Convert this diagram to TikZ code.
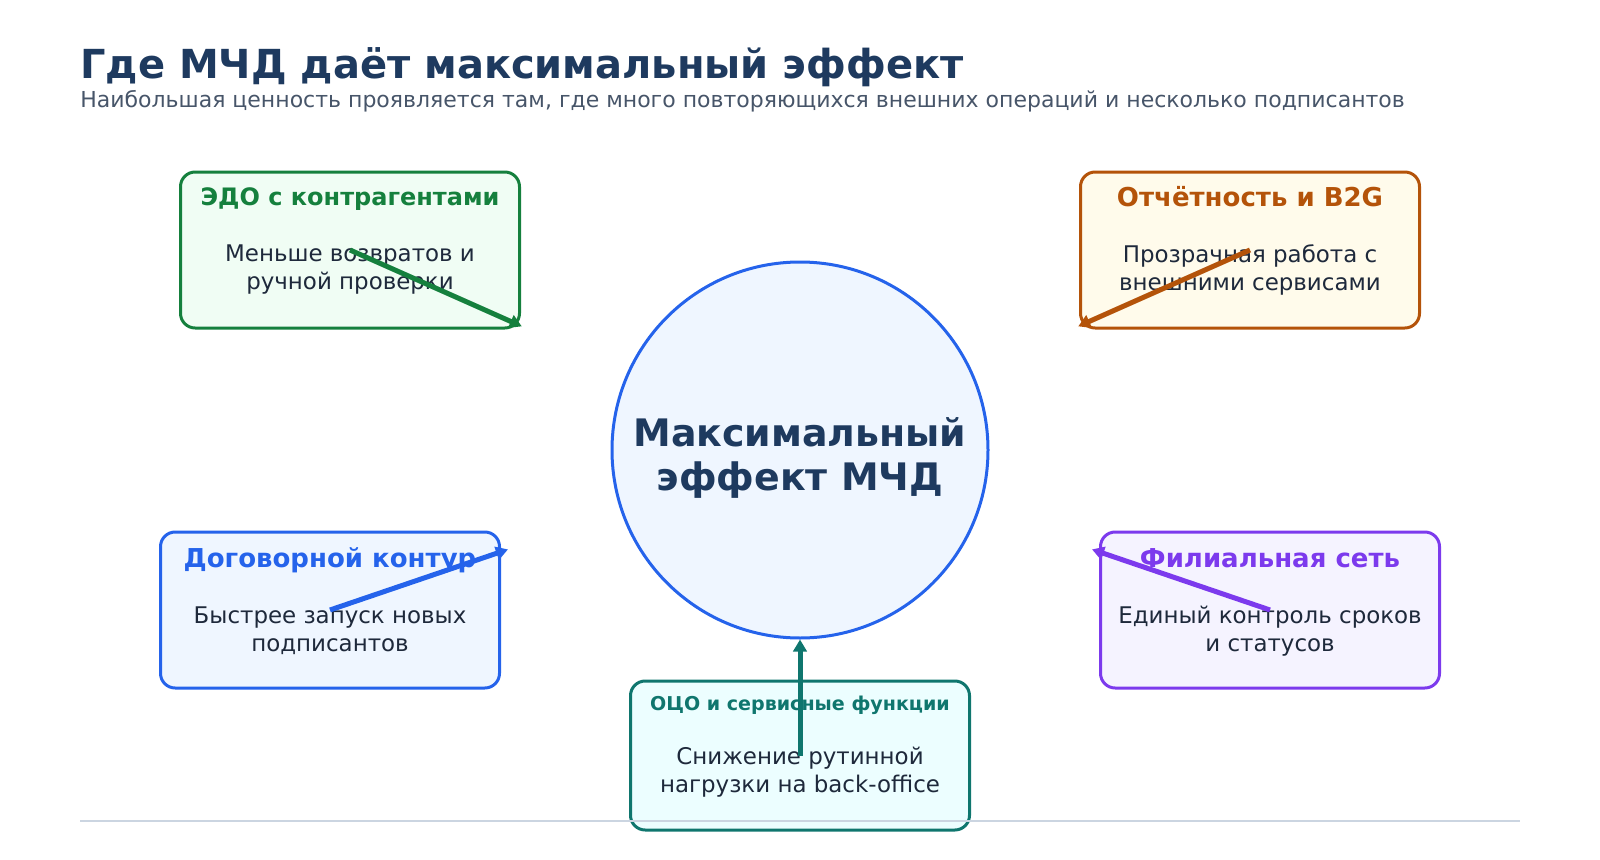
\documentclass[tikz,border=0pt]{standalone}
\usepackage{fontspec}
\setmainfont{DejaVu Sans}
\usetikzlibrary{arrows.meta,calc}

\definecolor{navy}{HTML}{1E3A5F}
\definecolor{slate}{HTML}{475569}
\definecolor{ink}{HTML}{1E293B}
\definecolor{rule}{HTML}{CBD5E1}
\definecolor{edoc}{HTML}{15803D}
\definecolor{edof}{HTML}{F0FDF4}
\definecolor{repc}{HTML}{B45309}
\definecolor{repf}{HTML}{FFFBEB}
\definecolor{dogc}{HTML}{2563EB}
\definecolor{dogf}{HTML}{EFF6FF}
\definecolor{filc}{HTML}{7C3AED}
\definecolor{filf}{HTML}{F5F3FF}
\definecolor{ococ}{HTML}{0F766E}
\definecolor{ocof}{HTML}{ECFEFF}

\begin{document}
\begin{tikzpicture}[x=0.75pt,y=-0.75pt,
    card/.style 2 args={draw=#1, fill=#2, line width=2.25pt, rounded corners=11pt,
      minimum width=254.25pt, minimum height=117pt, inner sep=0pt},
    cardtitle/.style={font=\bfseries\fontsize{19.5}{23}\selectfont, inner sep=0pt, anchor=base},
    cardtext/.style={font=\fontsize{17.2}{21}\selectfont, text=ink, align=center, inner sep=0pt},
    link/.style={draw=#1, line width=3.75pt, -{Triangle[length=9pt,width=10pt]}}]
  \useasboundingbox (0,0) rectangle (1600,860);
  \node[anchor=base west, inner sep=0pt, text=navy, font=\bfseries\fontsize{30}{35}\selectfont] (title) at (80,78) {Где МЧД даёт максимальный эффект};
  \node[anchor=base west, inner sep=0pt, text=slate, font=\fontsize{16.5}{19}\selectfont] (subtitle) at (80,107) {Наибольшая ценность проявляется там, где много повторяющихся внешних операций и несколько подписантов};
  % centre
  \node[circle, draw=dogc, fill=dogf, line width=2.25pt, minimum size=282pt, inner sep=0pt] (hub) at (800,450) {};
  \node[align=center, inner sep=0pt, text=navy, font=\bfseries\fontsize{28.4}{32.5}\selectfont] (hubT) at (800,458) {Максимальный\\эффект МЧД};
  % cards
  \node[card={edoc}{edof}] (edo) at (350,250) {};
  \node[cardtitle, text=edoc, font=\bfseries\fontsize{18}{21}\selectfont] (edoT) at (350,205) {ЭДО с контрагентами};
  \node[cardtext] (edoB) at (350,269.5) {Меньше возвратов и\\ручной проверки};
  \node[card={repc}{repf}] (rep) at (1250,250) {};
  \node[cardtitle, text=repc] (repT) at (1250,206) {Отчётность и B2G};
  \node[cardtext] (repB) at (1250,269.5) {Прозрачная работа с\\внешними сервисами};
  \node[card={dogc}{dogf}] (dog) at (330,610) {};
  \node[cardtitle, text=dogc] (dogT) at (330,567) {Договорной контур};
  \node[cardtext] (dogB) at (330,631) {Быстрее запуск новых\\подписантов};
  \node[card={filc}{filf}] (fil) at (1270,610) {};
  \node[cardtitle, text=filc] (filT) at (1270,567) {Филиальная сеть};
  \node[cardtext] (filB) at (1270,631) {Единый контроль сроков\\и статусов};
  \node[card={ococ}{ocof}, minimum height=111.75pt] (oco) at (800,755.5) {};
  \node[cardtitle, text=ococ, font=\bfseries\fontsize{14.3}{17}\selectfont] (ocoT) at (800,710) {ОЦО и сервисные функции};
  \node[cardtext] (ocoB) at (800,772) {Снижение рутинной\\нагрузки на back-office};
  % bottom rule
  \coordinate (ruleL) at (80,821);
  \coordinate (ruleR) at (1520,821);
  \draw[rule, line width=1.5pt] (ruleL) -- (ruleR);
  % arrows
  \draw[link=edoc] (edo.center) -- ($(edo.center)!141pt!(hub.center)$);
  \draw[link=repc] (rep.center) -- ($(rep.center)!141pt!(hub.center)$);
  \draw[link=dogc] (dog.center) -- ($(dog.center)!141pt!(hub.center)$);
  \draw[link=filc] (fil.center) -- ($(fil.center)!141pt!(hub.center)$);
  \draw[link=ococ] (oco.center) -- (hub.south);
\end{tikzpicture}
\end{document}
